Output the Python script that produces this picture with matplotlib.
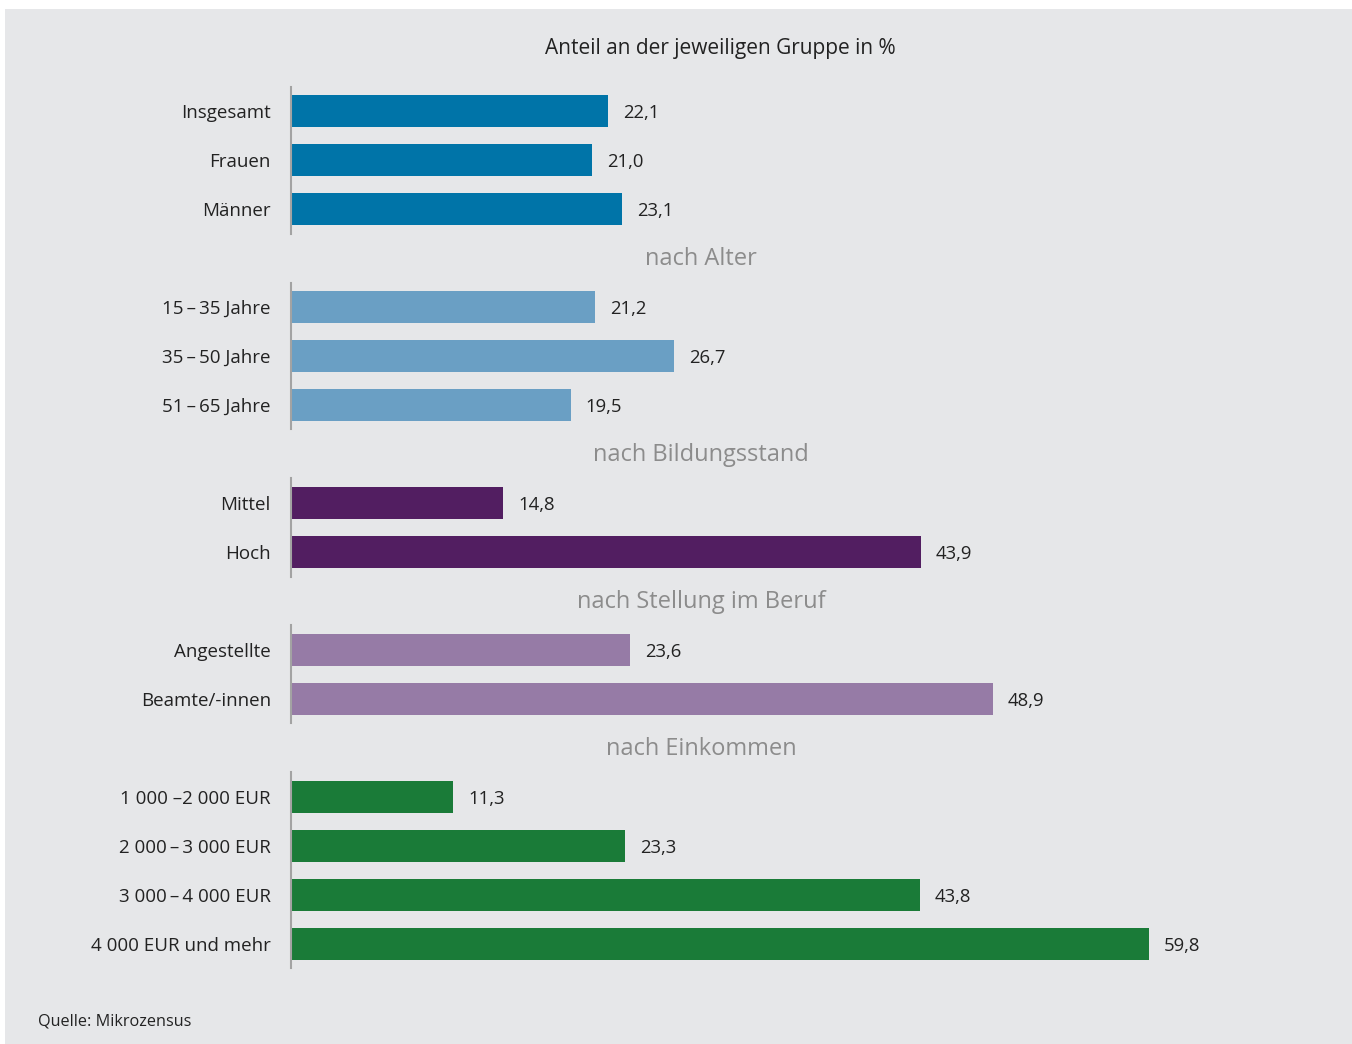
import matplotlib
matplotlib.use('Agg')
import matplotlib.pyplot as plt
from matplotlib.patches import Rectangle

plt.rcParams['font.family'] = ['Open Sans', 'DejaVu Sans']

# Data
categories = ['Insgesamt', 'Frauen', 'Männer',
              '15\u2009–\u200935 Jahre', '35\u2009–\u200950 Jahre', '51\u2009–\u200965 Jahre',
              'Mittel', 'Hoch',
              'Angestellte', 'Beamte/-innen',
              '1 000 \u20132 000 EUR', '2 000\u2009–\u20093 000 EUR',
              '3 000\u2009–\u20094 000 EUR', '4 000 EUR und mehr']
values = [22.1, 21.0, 23.1, 21.2, 26.7, 19.5, 14.8, 43.9, 23.6, 48.9, 11.3, 23.3, 43.8, 59.8]
group_sizes = [3, 3, 2, 2, 4]
group_titles = [None, 'nach Alter', 'nach Bildungsstand', 'nach Stellung im Beruf', 'nach Einkommen']
group_colors = ['#0074a8', '#6a9fc4', '#521e61', '#967ba6', '#1a7b38']

title = 'Anteil an der jeweiligen Gruppe in %'
source = 'Quelle: Mikrozensus'

W, H = 1352, 1044
fig = plt.figure(figsize=(W / 100, H / 100), dpi=100)
fig.patch.set_facecolor('white')
fig.patches.append(Rectangle((5 / W, 0), 1 - 5 / W, (H - 9) / H, transform=fig.transFigure,
                             facecolor='#e6e7e9', edgecolor='none', zorder=0))

ax = fig.add_axes([0, 0, 1, 1])
ax.set_zorder(2)
ax.patch.set_alpha(0)
px = 14.35  # pixels per percent
ax.set_xlim(-291 / px, (W - 291) / px)
ax.set_ylim((H - 111) / 49, -111 / 49)
ax.axis('off')

row = 0
idx = 0
for g, n in enumerate(group_sizes):
    if group_titles[g]:
        ax.annotate(group_titles[g], (410 / px, row - 1), xytext=(0, -0.5),
                    textcoords='offset points', ha='center', va='center',
                    fontsize=17, color='#8c8c8c')
    ys = list(range(row, row + n))
    vals = values[idx:idx + n]
    ax.barh(ys, vals, height=0.67, color=group_colors[g], zorder=2)
    ax.plot([0, 0], [row - 0.5, row + n - 0.5], color='#a3a3a3', lw=1.5, zorder=3)
    for y, v, lab in zip(ys, vals, categories[idx:idx + n]):
        ax.annotate(f'{v:.1f}'.replace('.', ','), (v, y), xytext=(10.8, -1.4),
                    textcoords='offset points', ha='left', va='center',
                    fontsize=13.3, color='#222222')
        ax.annotate(lab, (0, y), xytext=(-14.5, -1.4), textcoords='offset points',
                    ha='right', va='center', fontsize=13.5, color='#222222')
    idx += n
    row += n + 1

fig.text(720 / W, 1 - 48.5 / H, title, ha='center', va='center', fontsize=15, color='#222222')
fig.text(38 / W, 1 - 1021 / H, source, ha='left', va='center', fontsize=11.7, color='#222222')

fig.savefig('out.png', dpi=100)
